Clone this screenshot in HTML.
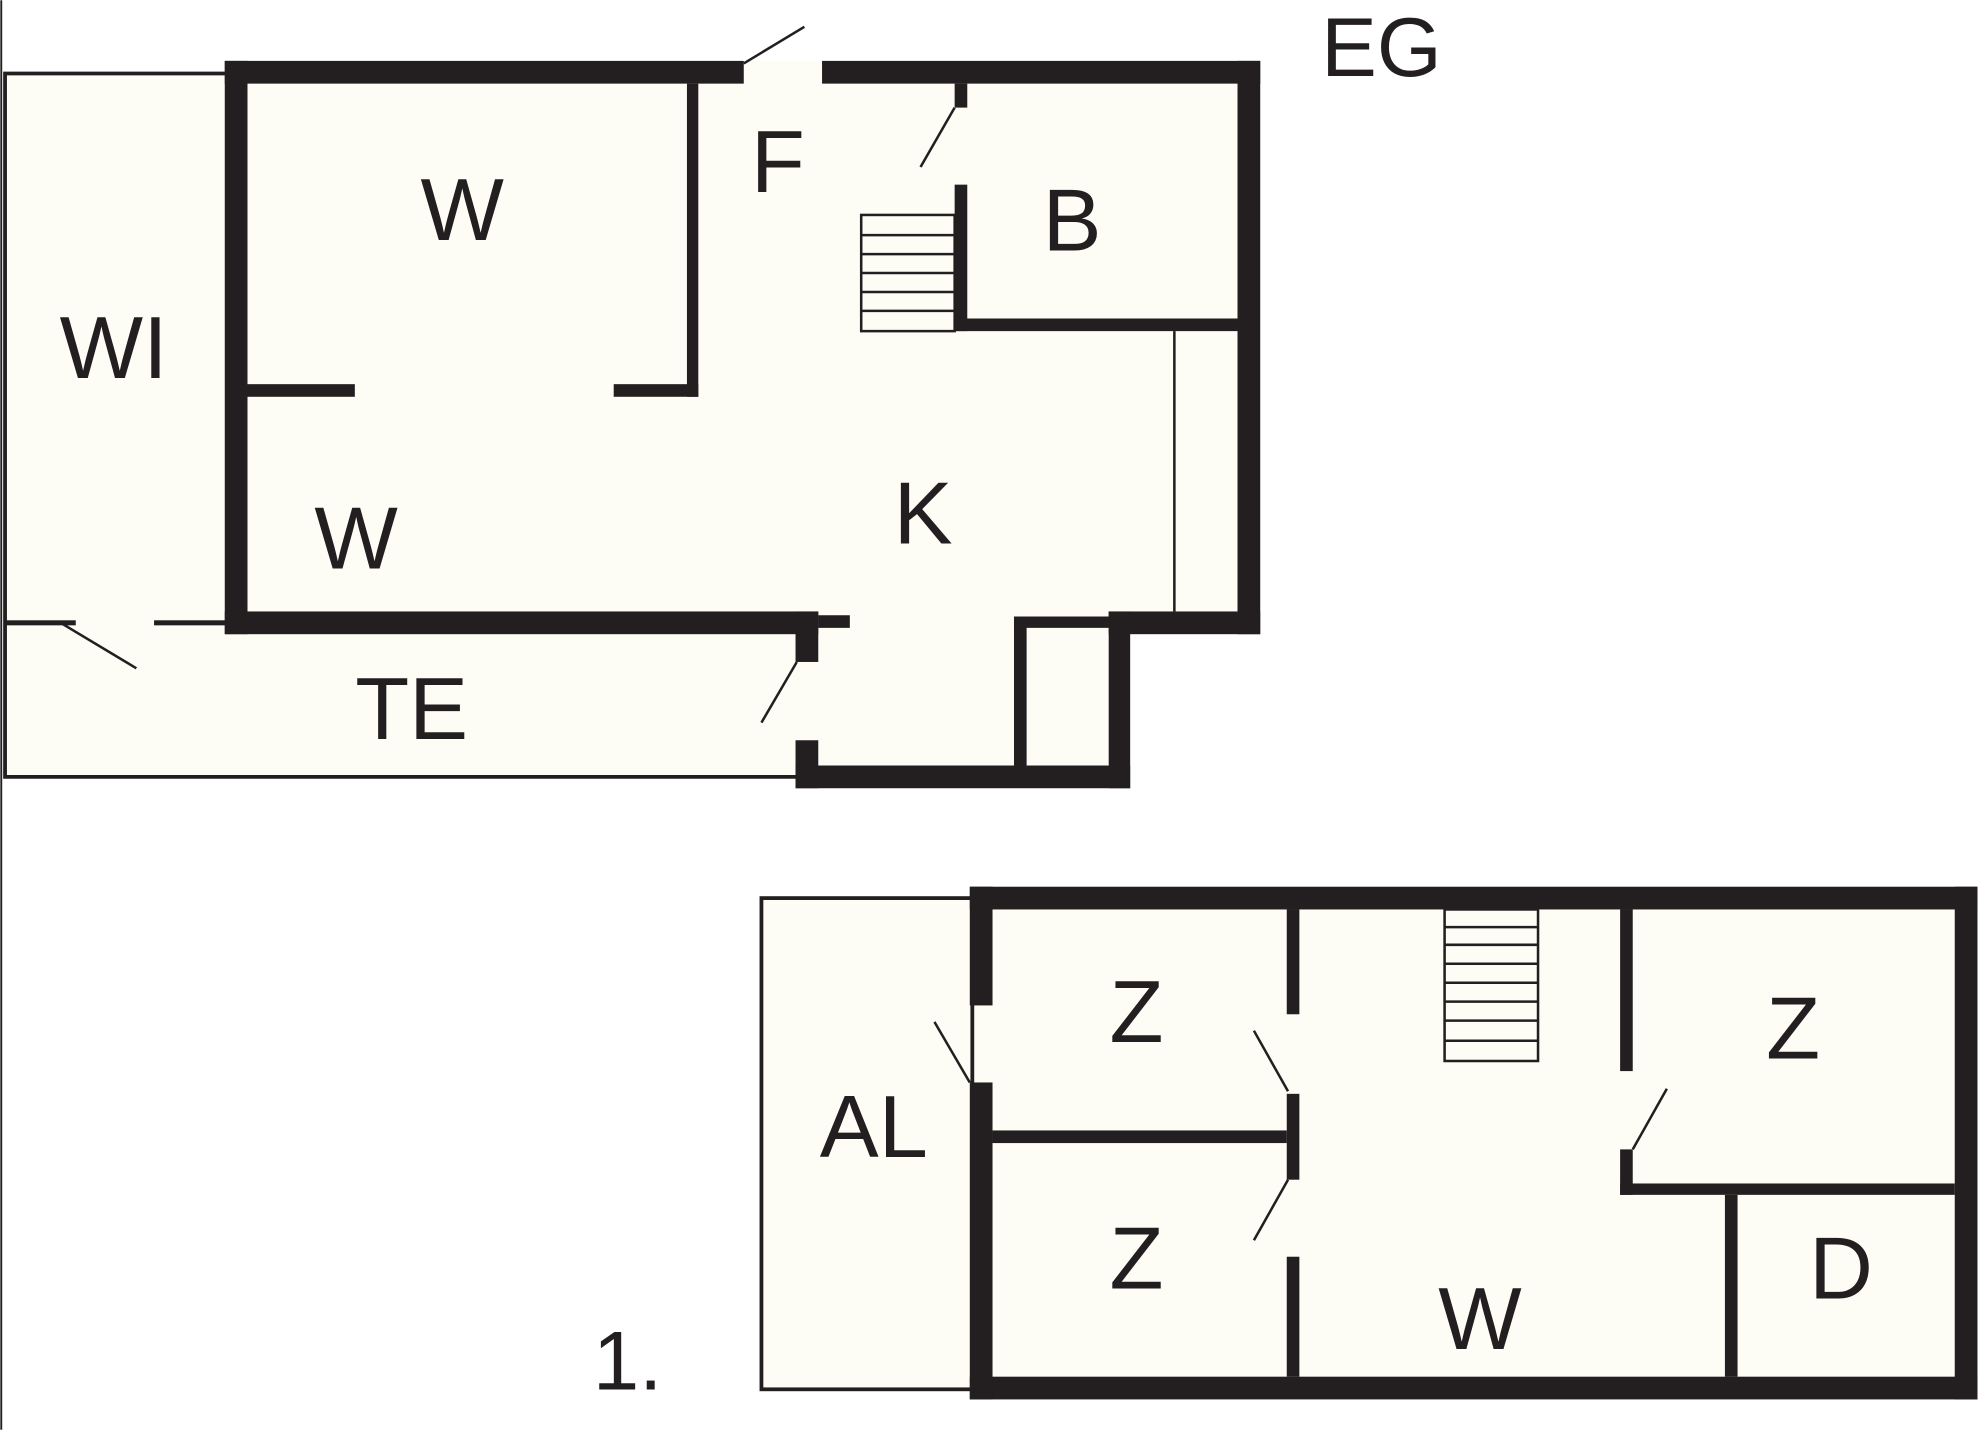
<!DOCTYPE html>
<html><head><meta charset="utf-8"><style>
html,body{margin:0;padding:0;background:#fff}
svg{display:block}
text{font-family:"Liberation Sans",sans-serif;fill:#231f20;text-anchor:middle}
</style></head><body>
<svg width="1980" height="1430" viewBox="0 0 1568 1132" xmlns="http://www.w3.org/2000/svg">
<rect width="1568" height="1132" fill="#fff"/>
<line x1="1" y1="0" x2="1" y2="1132" stroke="#231f20" stroke-width="1.5"/>
<g fill="#fdfdf6">
<rect x="3" y="57" width="180" height="558"/>
<rect x="3" y="493" width="630" height="122"/>
<rect x="178" y="48" width="820" height="454"/>
<rect x="630" y="484" width="265" height="140"/>
<rect x="602" y="710" width="170" height="390"/>
<rect x="768" y="702" width="798" height="406"/>
</g>
<g fill="none" stroke="#231f20" stroke-width="3">
<polyline points="180,58 4,58 4,615 632,615"/>
<rect x="603" y="711" width="167" height="389"/>
</g>
<g fill="#231f20">
<!-- top plan walls -->
<rect x="178" y="48" width="411" height="18"/>
<rect x="651" y="48" width="347" height="18"/>
<rect x="980" y="48" width="18" height="454"/>
<rect x="178" y="48" width="18" height="454"/>
<rect x="178" y="484" width="470" height="18"/>
<rect x="878" y="484" width="120" height="18"/>
<rect x="630" y="484" width="18" height="40"/>
<rect x="630" y="586" width="18" height="38"/>
<rect x="630" y="606" width="265" height="18"/>
<rect x="878" y="484" width="17" height="140"/>
<rect x="803" y="488" width="10" height="118"/>
<rect x="803" y="488" width="77" height="9"/>
<rect x="648" y="487" width="25" height="10"/>
<rect x="544" y="66" width="9" height="248"/>
<rect x="486" y="304" width="67" height="10"/>
<rect x="196" y="304" width="85" height="10"/>
<rect x="756" y="66" width="10" height="19"/>
<rect x="756" y="146" width="10" height="116"/>
<rect x="756" y="252" width="224" height="10"/>
<rect x="929" y="262" width="2" height="222"/>
<rect x="3" y="491" width="57" height="4"/>
<rect x="122" y="491" width="58" height="4"/>
<!-- bottom plan walls -->
<rect x="768" y="702" width="798" height="18"/>
<rect x="768" y="1090" width="798" height="18"/>
<rect x="1548" y="702" width="18" height="406"/>
<rect x="768" y="702" width="18" height="94"/>
<rect x="768" y="857" width="18" height="251"/>
<rect x="1019" y="720" width="10" height="83"/>
<rect x="1019" y="866" width="10" height="68"/>
<rect x="1019" y="995" width="10" height="95"/>
<rect x="786" y="895" width="233" height="10"/>
<rect x="1283" y="720" width="10" height="128"/>
<rect x="1283" y="910" width="10" height="36"/>
<rect x="1283" y="937" width="265" height="9"/>
<rect x="1366" y="946" width="10" height="144"/>
</g>
<g stroke="#231f20" stroke-width="2" fill="none">
<rect x="682" y="170" width="74" height="92"/>
<line x1="682" y1="186" x2="756" y2="186"/>
<line x1="682" y1="201" x2="756" y2="201"/>
<line x1="682" y1="216" x2="756" y2="216"/>
<line x1="682" y1="231" x2="756" y2="231"/>
<line x1="682" y1="246" x2="756" y2="246"/>
<rect x="1144" y="720" width="74" height="120"/>
<line x1="1144" y1="734" x2="1218" y2="734"/>
<line x1="1144" y1="748" x2="1218" y2="748"/>
<line x1="1144" y1="763" x2="1218" y2="763"/>
<line x1="1144" y1="778" x2="1218" y2="778"/>
<line x1="1144" y1="793" x2="1218" y2="793"/>
<line x1="1144" y1="808" x2="1218" y2="808"/>
<line x1="1144" y1="824" x2="1218" y2="824"/>
<line x1="729" y1="132" x2="756" y2="85"/>
<line x1="589" y1="50" x2="637" y2="21"/>
<line x1="603" y1="572" x2="631" y2="524"/>
<line x1="48" y1="493" x2="108" y2="529"/>
<line x1="740" y1="809" x2="768" y2="857"/>
<line x1="993" y1="816" x2="1020" y2="864"/>
<line x1="993" y1="982" x2="1020" y2="934"/>
<line x1="1293" y1="910" x2="1320" y2="862"/>
</g>
<text x="1094" y="60" font-size="66">EG</text>
<text x="366" y="190" font-size="70">W</text>
<text x="616" y="152" font-size="70">F</text>
<text x="849" y="198" font-size="70">B</text>
<text x="90" y="299" font-size="70">WI</text>
<text x="282" y="450" font-size="70">W</text>
<text x="731" y="430" font-size="70">K</text>
<text x="326" y="585" font-size="70">TE</text>
<text x="900" y="825" font-size="70">Z</text>
<text x="1420" y="838" font-size="70">Z</text>
<text x="692" y="916" font-size="70">AL</text>
<text x="900" y="1020" font-size="70">Z</text>
<text x="1172" y="1068" font-size="70">W</text>
<text x="1458" y="1028" font-size="70">D</text>
<text x="497" y="1100" font-size="66">1.</text>
</svg>
</body></html>
